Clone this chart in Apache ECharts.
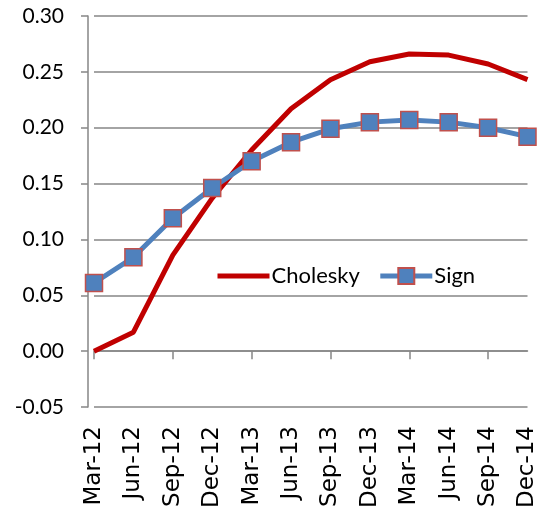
<!DOCTYPE html>
<html>
<head>
<meta charset="utf-8">
<script src="https://cdn.jsdelivr.net/npm/echarts@6/dist/echarts.min.js"></script>
<style>
  html, body { margin: 0; padding: 0; background: #fff; }
  #chart { width: 539px; height: 512px; }
</style>
</head>
<body>
<div id="chart"></div>
<script>
// quarters on the x axis
var quarters = ['Mar-12', 'Jun-12', 'Sep-12', 'Dec-12', 'Mar-13', 'Jun-13',
                'Sep-13', 'Dec-13', 'Mar-14', 'Jun-14', 'Sep-14', 'Dec-14'];
var cholesky = [0.000, 0.017, 0.086, 0.137, 0.180, 0.217, 0.243, 0.259, 0.266, 0.265, 0.257, 0.243];
var sign     = [0.061, 0.084, 0.119, 0.146, 0.170, 0.187, 0.199, 0.205, 0.207, 0.205, 0.200, 0.192];

var font = 'Lato';
var grey = '#868686';

var myChart = echarts.init(document.getElementById('chart'));
var option = {
    animation: false,
    textStyle: { fontFamily: font },
    legend: {
        left: 210,
        top: 260,
        itemWidth: 52,
        itemHeight: 20,
        itemGap: 18,
        lineStyle: { width: 5 },
        textStyle: { fontFamily: font, fontSize: 22, color: '#000', padding: [0, 0, 0, -3] },
        data: [
            { name: 'Cholesky', itemStyle: { opacity: 0 } },
            'Sign'
        ]
    },
    grid: {
        left: 94,
        right: 10,
        top: 16,
        bottom: 105
    },
    xAxis: [
        {
            // axis line + ticks sit on y = 0
            type: 'category',
            data: quarters,
            boundaryGap: false,
            axisLine: { onZero: true, lineStyle: { color: grey, width: 1.5 } },
            axisTick: { show: true, length: 8, lineStyle: { color: grey, width: 1.5 } },
            axisLabel: { show: false },
            splitLine: { show: false }
        },
        {
            // labels at the bottom
            type: 'category',
            data: quarters,
            position: 'bottom',
            boundaryGap: false,
            axisLine: { show: false, onZero: false },
            axisTick: { show: false },
            axisLabel: {
                rotate: 90,
                margin: 19,
                fontFamily: 'DejaVu Sans',
                fontSize: 23,
                color: '#000'
            }
        }
    ],
    yAxis: {
        type: 'value',
        min: -0.05,
        max: 0.30,
        interval: 0.05,
        offset: 6,
        axisLine: { show: true, lineStyle: { color: grey, width: 1.5 } },
        axisTick: { show: true, length: 7, lineStyle: { color: grey, width: 1.5 } },
        axisLabel: {
            margin: 24,
            fontFamily: font,
            fontSize: 21,
            color: '#000',
            formatter: function (v) { return v.toFixed(2); }
        },
        splitLine: { lineStyle: { color: grey, width: 1.5 } }
    },
    series: [
        {
            name: 'Cholesky',
            type: 'line',
            data: cholesky,
            symbol: 'none',
            lineStyle: { color: '#C00000', width: 5 },
            itemStyle: { color: '#C00000' }
        },
        {
            name: 'Sign',
            type: 'line',
            data: sign,
            symbol: 'rect',
            symbolSize: 17,
            lineStyle: { color: '#4F81BD', width: 5 },
            itemStyle: { color: '#4F81BD', borderColor: '#C0504D', borderWidth: 1.5 }
        }
    ]
};
if (option && typeof option === "object") {
    myChart.setOption(option, true);
}
</script>
</body>
</html>
